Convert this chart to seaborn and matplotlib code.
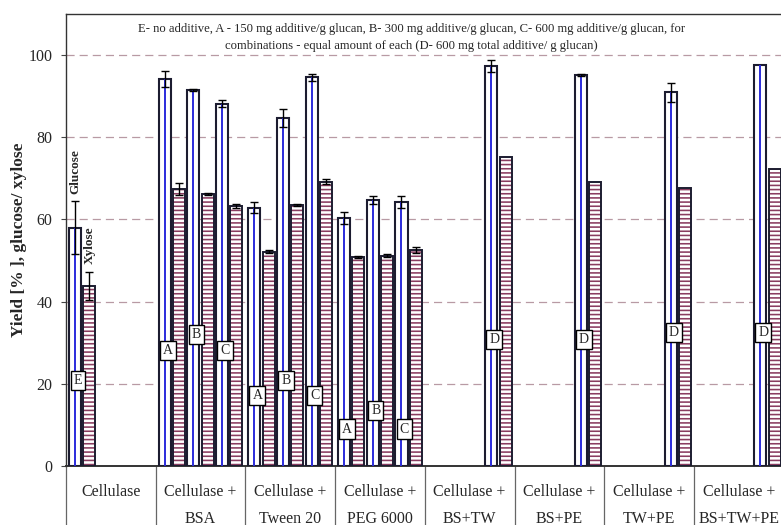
import numpy as np
import pandas as pd
import matplotlib
matplotlib.use("Agg")
import matplotlib.pyplot as plt
import matplotlib.transforms as mtransforms
from matplotlib.patches import Rectangle
import seaborn as sns

nan = np.nan

categories = ["Cellulase", "Cellulase +\nBSA", "Cellulase +\nTween 20", "Cellulase +\nPEG 6000",
              "Cellulase +\nBS+TW", "Cellulase +\nBS+PE", "Cellulase +\nTW+PE", "Cellulase +\nBS+TW+PE"]
series = ["Glucose A", "Xylose A", "Glucose B", "Xylose B", "Glucose C", "Xylose C"]

# mean yields (%) per additive dose slot
glucose_a = [58.0, 94.2, 62.9, 60.3, nan, nan, nan, nan]
xylose_a = [43.8, 67.4, 52.2, 50.9, nan, nan, nan, nan]
glucose_b = [nan, 91.5, 84.8, 64.7, nan, nan, nan, nan]
xylose_b = [nan, 66.2, 63.5, 51.2, nan, nan, nan, nan]
glucose_c = [nan, 88.2, 94.6, 64.2, 97.4, 95.1, 90.9, 97.6]
xylose_c = [nan, 63.3, 69.2, 52.5, 75.1, 69.0, 67.7, 72.3]

# standard deviations
glucose_a_err = [6.5, 2.0, 1.3, 1.5, nan, nan, nan, nan]
xylose_a_err = [3.5, 1.5, 0.3, 0.3, nan, nan, nan, nan]
glucose_b_err = [nan, 0.2, 2.2, 0.9, nan, nan, nan, nan]
xylose_b_err = [nan, 0.2, 0.2, 0.3, nan, nan, nan, nan]
glucose_c_err = [nan, 0.8, 0.9, 1.5, 1.5, 0.3, 2.2, 0.0]
xylose_c_err = [nan, 0.5, 0.6, 0.7, 0.0, 0.0, 0.0, 0.0]

# dose letters written on the glucose bars
dose_letters = ["E", "A", "B", "C", "A", "B", "C", "A", "B", "C", "D", "D", "D", "D"]
dose_category = [0, 1, 1, 1, 2, 2, 2, 3, 3, 3, 4, 5, 6, 7]
dose_series = ["Glucose A", "Glucose A", "Glucose B", "Glucose C",
               "Glucose A", "Glucose B", "Glucose C",
               "Glucose A", "Glucose B", "Glucose C",
               "Glucose C", "Glucose C", "Glucose C", "Glucose C"]
dose_y = [20.7, 28.2, 32.0, 28.2, 17.1, 20.9, 17.1, 9.0, 13.4, 9.0, 30.8, 30.8, 32.5, 32.5]

note_line1 = ("E- no additive, A - 150 mg additive/g glucan, B- 300 mg additive/g glucan, "
              "C- 600 mg additive/g glucan, for")
note_line2 = "combinations - equal amount of each (D- 600 mg total additive/ g glucan)"

values = [glucose_a, xylose_a, glucose_b, xylose_b, glucose_c, xylose_c]
errors = [glucose_a_err, xylose_a_err, glucose_b_err, xylose_b_err, glucose_c_err, xylose_c_err]

rows = []
for s, vals, errs in zip(series, values, errors):
    for ci, (c, v, e) in enumerate(zip(categories, vals, errs)):
        if not np.isnan(v):
            rows.append({"category": c, "series": s, "yield": v, "err": e, "ci": ci})
df = pd.DataFrame(rows)
err_lookup = {(r.series, r.ci): r.err for r in df.itertuples()}

sns.set_theme(style="white")
plt.rcParams["font.family"] = ["Liberation Serif", "DejaVu Serif"]
plt.rcParams["hatch.linewidth"] = 1.15

W, H = 781, 525
fig = plt.figure(figsize=(W / 100, H / 100), dpi=100)
ax = fig.add_axes([66 / W, (H - 466) / H, 717.6 / W, (466 - 14) / H])

n_s = len(series)
group_w = 0.96
sns.barplot(data=df, x="category", y="yield", hue="series", order=categories,
            hue_order=series, width=group_w, gap=0.16, dodge=True, errorbar=None,
            legend=False, ax=ax, zorder=3)

slot = group_w / n_s
maroon = "#8a3c60"
blue = "#2b2bdc"
edge = "#1c1c30"
bars = {}
for p in ax.patches:
    if p.get_height() is None or np.isnan(p.get_height()):
        continue
    xc = p.get_x() + p.get_width() / 2
    ci = int(round(xc))
    si = int(round((xc - ci + group_w / 2 - slot / 2) / slot))
    name = series[si]
    bars[(name, ci)] = p
    x0, w, h = p.get_x(), p.get_width(), p.get_height()
    if name.startswith("Glucose"):
        p.set_facecolor("white")
        p.set_edgecolor(edge)
        p.set_linewidth(1.5)
        ax.vlines(xc, 0, h, color=blue, lw=1.4, zorder=3.5)
    else:
        p.set_facecolor("white")
        p.set_hatch("----")
        p.set_edgecolor(maroon)
        p.set_linewidth(0)
        ax.add_patch(Rectangle((x0, 0), w, h, fill=False, ec=edge, lw=1.4, zorder=3.6))
    e = err_lookup.get((name, ci), 0.0)
    if e and e > 0:
        ax.errorbar(xc, h, yerr=e, fmt="none", ecolor="black", elinewidth=1.0,
                    capsize=2.6, capthick=1.0, zorder=4)

# series names above the plain cellulase bars
for name, label in [("Glucose A", "Glucose"), ("Xylose A", "Xylose")]:
    p = bars[(name, 0)]
    top = p.get_height() + err_lookup[(name, 0)] + 1.8
    ax.text(p.get_x() + p.get_width() / 2, top, label, rotation=90, ha="center",
            va="bottom", fontsize=9.5, fontweight="bold", zorder=5)

# dose letters in boxes
for letter, ci, s, y in zip(dose_letters, dose_category, dose_series, dose_y):
    p = bars[(s, ci)]
    ax.text(p.get_x() + p.get_width() * 0.75, y, letter, ha="center", va="center",
            fontsize=10, zorder=6,
            bbox=dict(boxstyle="square,pad=0.22", fc="white", ec="black", lw=1.0))

ax.set_xlim(-0.5, len(categories) - 0.5)
ax.set_ylim(0, 110)
ax.set_yticks([0, 20, 40, 60, 80, 100])
ax.set_xticks(range(len(categories)))
ax.set_xticklabels(categories, fontsize=11.5, linespacing=1.9)
ax.tick_params(axis="x", length=0, pad=13)
ax.tick_params(axis="y", length=3.6, width=0.8, pad=6, labelsize=11.5, left=True, color="#444444")
ax.set_xlabel("")
ax.set_ylabel("Yield [% ], glucose/ xylose", fontsize=12.5, fontweight="bold")
ax.yaxis.set_label_coords(-0.054, 0.5)

for y in [20, 40, 60, 80, 100]:
    ax.axhline(y, color="#b89aa4", lw=0.9, ls=(0, (6.5, 4.0)), zorder=1)

for side in ["left", "top", "bottom"]:
    ax.spines[side].set_visible(True)
    ax.spines[side].set_color("#333333")
    ax.spines[side].set_linewidth(1.0)
ax.spines["bottom"].set_linewidth(1.4)
ax.spines["right"].set_visible(False)

# category separators under the axis
trans = mtransforms.blended_transform_factory(ax.transData, ax.transAxes)
for xb in np.arange(-0.5, len(categories) - 0.5, 1.0):
    ax.plot([xb, xb], [0, -0.2], transform=trans, color="#666666", lw=0.9, clip_on=False)

fig.text(411.5 / W, 1 - 29.3 / H, note_line1, ha="center", va="center", fontsize=9.1)
fig.text(411.5 / W, 1 - 45.7 / H, note_line2, ha="center", va="center", fontsize=9.1)

fig.savefig("out.png", dpi=100)
